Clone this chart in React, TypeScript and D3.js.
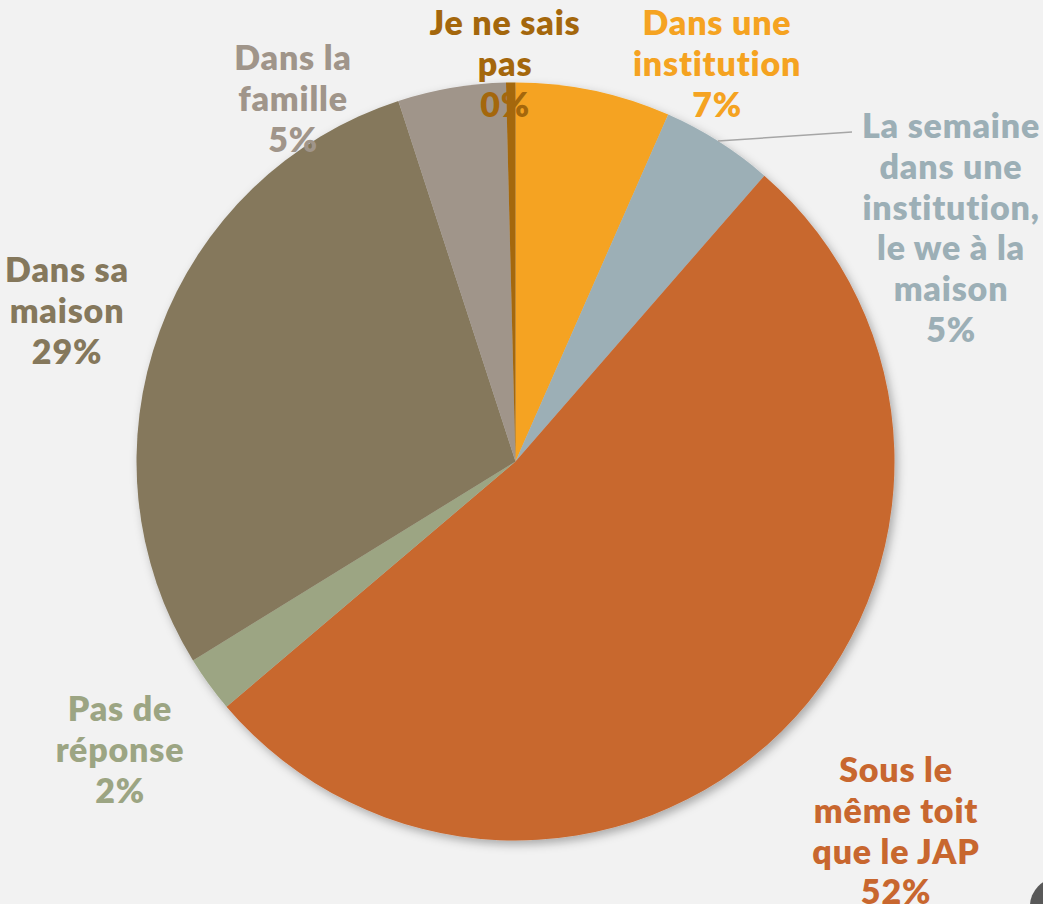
import React from "react";
import * as d3 from "d3";

const categories = [
  "Dans une institution",
  "La semaine dans une institution, le we à la maison",
  "Sous le même toit que le JAP",
  "Pas de réponse",
  "Dans sa maison",
  "Dans la famille",
  "Je ne sais pas",
];
const values = [6.6, 4.8, 52.4, 2.4, 28.8, 4.6, 0.4];
const percentLabels = ["7%", "5%", "52%", "2%", "29%", "5%", "0%"];
const labelLines = [
  ["Dans une", "institution"],
  ["La semaine", "dans une", "institution,", "le we à la", "maison"],
  ["Sous le", "même toit", "que le JAP"],
  ["Pas de", "réponse"],
  ["Dans sa", "maison"],
  ["Dans la", "famille"],
  ["Je ne sais", "pas"],
];
const colors = ["#F5A321", "#9CAFB6", "#C8672F", "#9CA583", "#85785C", "#A0958A", "#A4670C"];

// layout (label centre of first line)
const labelPos = [
  [717, 21],
  [951, 124],
  [896, 768],
  [120, 707],
  [67, 268],
  [293, 56],
  [505, 21],
];

const W = 1043;
const H = 904;
const cx = 515.5;
const cy = 461.5;
const R = 379;
const lineH = 40.8;

export default function App() {
  const pie = d3.pie<number>().sort(null).startAngle(0).endAngle(2 * Math.PI)(values);
  const arc = d3.arc<d3.PieArcDatum<number>>().innerRadius(0).outerRadius(R);
  return (
    <svg width={W} height={H} style={{ position: "absolute", left: 0, top: 0 }}>
      <defs>
        <filter id="sh" x="-20%" y="-20%" width="140%" height="140%">
          <feDropShadow dx="3" dy="4" stdDeviation="5" floodColor="#000" floodOpacity="0.3" />
        </filter>
      </defs>
      <rect width={W} height={H} fill="#F2F2F2" />
      <g transform={`translate(${cx},${cy})`} filter="url(#sh)">
        {pie.map((d, i) => (
          <path key={i} d={arc(d) || ""} fill={colors[i]} />
        ))}
      </g>
      <line x1={718} y1={141} x2={852} y2={132} stroke="#A6A6A6" strokeWidth={1.5} />
      {labelLines.map((lines, i) => (
        <text
          key={i}
          fill={colors[i]}
          fontFamily="Lato, 'Open Sans', sans-serif"
          fontWeight={800}
          fontSize={34}
          letterSpacing={0.8}
          style={{ fontVariantLigatures: "none" }}
          textAnchor="middle"
          dominantBaseline="central"
        >
          {[...lines, percentLabels[i]].map((t, j) => (
            <tspan key={j} x={labelPos[i][0]} y={labelPos[i][1] + j * lineH}>
              {t}
            </tspan>
          ))}
        </text>
      ))}
      <circle cx={1058} cy={906} r={28} fill="#595959" />
    </svg>
  );
}
